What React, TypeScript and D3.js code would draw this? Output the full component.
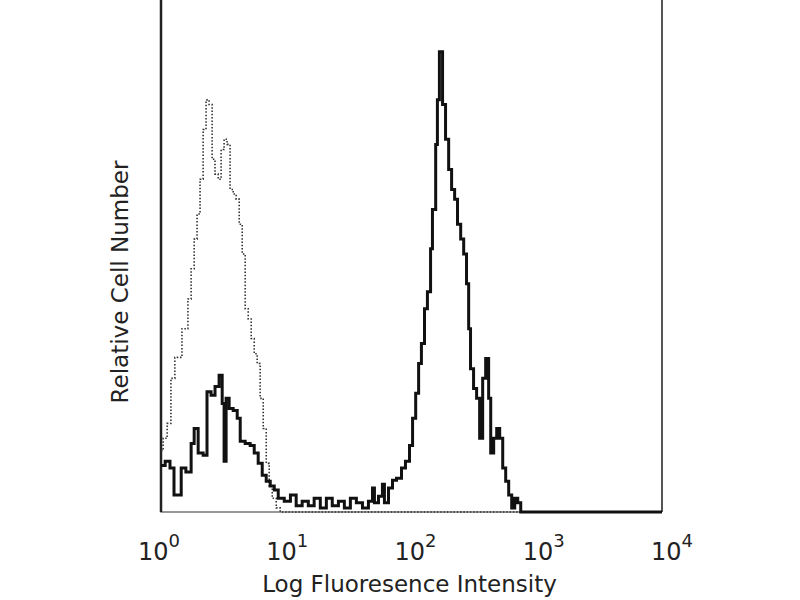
import React, { useEffect, useRef } from 'react';
import * as d3 from 'd3';

// stained sample (solid histogram): bin start intensity and relative count
const stainedIntensity = [
  1.0, 1.08, 1.18, 1.27, 1.45, 1.58, 1.74, 1.84, 1.98, 2.17, 2.33, 2.51, 2.7, 2.91, 3.08, 3.19,
  3.31, 3.5, 3.77, 4.06, 4.29, 4.7, 5.15, 5.55, 5.97, 6.43, 6.92, 7.45, 8.02, 8.63, 9.64, 10.8,
  12.0, 13.4, 15.0, 16.7, 18.7, 20.9, 23.3, 26.1, 29.1, 32.5, 36.3, 40.6, 45.3, 48.8, 50.6, 54.5,
  58.6, 60.8, 65.5, 70.5, 75.9, 83.2, 89.5, 96.4, 102, 108, 114, 120, 127, 134, 142, 147,
  156, 161, 167, 177, 187, 198, 209, 221, 233, 247, 261, 275, 286, 296, 313, 331,
  350, 370, 391, 413, 429, 453, 479, 506, 535, 565, 597, 631, 667, 705, 745, 10000,
];
const stainedCount = [
  9.1, 9.9, 8.6, 3.3, 8.6, 7.8, 13.4, 16.3, 11.5, 11.1, 23.5, 22.8, 24.5, 26.7, 21.2, 9.9,
  22.2, 20.2, 19.8, 18.3, 13.8, 13.4, 13.0, 11.5, 9.5, 7.2, 6.0, 5.1, 4.3, 2.7, 2.1, 3.3,
  1.2, 2.1, 1.2, 2.7, 0.8, 2.7, 1.2, 2.1, 0.8, 2.7, 1.8, 0.8, 2.1, 4.7, 1.8, 3.1,
  5.4, 1.8, 4.7, 6.2, 6.6, 8.6, 9.9, 13.0, 18.3, 23.2, 29.0, 32.9, 39.7, 43.0, 51.4, 59.1,
  71.8, 80.5, 89.9, 79.6, 72.8, 66.9, 63.0, 61.1, 56.2, 53.3, 50.4, 44.6, 35.8, 28.0, 24.1, 22.2,
  14.4, 26.1, 30.0, 22.2, 11.5, 14.4, 16.3, 14.4, 8.6, 6.0, 3.3, 0.8, 2.7, 1.8, 0, 0,
];

// isotype control (dotted histogram)
const isotypeIntensity = [
  1.0, 1.04, 1.12, 1.2, 1.29, 1.47, 1.64, 1.74, 1.84, 1.94, 2.05, 2.17, 2.29, 2.42, 2.56, 2.7,
  2.86, 3.02, 3.19, 3.37, 3.56, 3.77, 3.98, 4.21, 4.45, 4.7, 4.97, 5.25, 5.55, 5.86, 6.19, 6.55,
  6.92, 7.31, 7.73, 8.32, 8.95, 10000,
];
const isotypeCount = [
  12.0, 14.4, 17.3, 26.1, 30.2, 35.8, 41.6, 47.5, 53.3, 58.2, 65.0, 74.7, 80.5, 79.6, 68.9, 66.0,
  65.0, 70.8, 72.8, 71.8, 63.0, 62.1, 61.1, 56.2, 50.4, 39.7, 37.7, 33.9, 30.9, 29.0, 22.2, 16.3,
  9.5, 5.1, 2.7, 0.8, 0, 0,
];

const decadeTicks = [1, 10, 100, 1000, 10000];
const tickExponents = ['0', '1', '2', '3', '4'];

const App = () => {
  const chartRef = useRef<SVGSVGElement>(null);

  useEffect(() => {
    const svg = d3.select(chartRef.current);
    svg.selectAll('*').remove();

    const left = 161, right = 662, top = 0, bottom = 512;
    const font = '"DejaVu Sans", sans-serif';

    const x = d3.scaleLog().domain([1, 10000]).range([left, right]);
    const y = d3.scaleLinear().domain([0, 100]).range([bottom, top]);

    const line = d3.line<[number, number]>()
      .x(d => x(d[0]))
      .y(d => y(d[1]))
      .curve(d3.curveStepAfter);

    svg.append('rect').attr('width', 800).attr('height', 600).attr('fill', '#fff');

    // frame (open at the top)
    svg.append('path')
      .attr('d', `M${left},-2V${bottom}H${right}`)
      .attr('fill', 'none')
      .attr('stroke', '#777')
      .attr('stroke-width', 1.5);
    svg.append('line')
      .attr('x1', left).attr('x2', left).attr('y1', -2).attr('y2', bottom)
      .attr('stroke', '#222').attr('stroke-width', 2.5);
    svg.append('line')
      .attr('x1', right).attr('x2', right).attr('y1', -2).attr('y2', bottom)
      .attr('stroke', '#555').attr('stroke-width', 2);

    // isotype, dotted
    const iso = isotypeIntensity.map((v, i) => [v, isotypeCount[i]] as [number, number]);
    svg.append('path')
      .attr('d', line(iso))
      .attr('fill', 'none')
      .attr('stroke', '#333')
      .attr('stroke-width', 1.6)
      .attr('stroke-dasharray', '1.5,1.8');

    // stained, solid
    const st = stainedIntensity.map((v, i) => [v, stainedCount[i]] as [number, number]);
    svg.append('path')
      .attr('d', line(st))
      .attr('fill', 'none')
      .attr('stroke', '#111')
      .attr('stroke-width', 3)
      .attr('stroke-linejoin', 'miter');

    // tick labels 10^n
    const labels = svg.append('g')
      .attr('font-family', font)
      .attr('fill', '#222');
    decadeTicks.forEach((v, i) => {
      const t = labels.append('text')
        .attr('x', x(v) + 3 * i - 2)
        .attr('y', 560)
        .attr('text-anchor', 'middle')
        .attr('font-size', 24);
      t.append('tspan').text('10');
      t.append('tspan')
        .attr('dy', -13)
        .attr('font-size', 18)
        .text(tickExponents[i]);
    });

    // axis titles
    svg.append('text')
      .attr('x', (left + right) / 2 - 2)
      .attr('y', 592)
      .attr('text-anchor', 'middle')
      .attr('font-family', font)
      .attr('font-size', 23)
      .attr('fill', '#222')
      .text('Log Fluoresence Intensity');

    svg.append('text')
      .attr('transform', 'translate(128,282) rotate(-90)')
      .attr('text-anchor', 'middle')
      .attr('font-family', font)
      .attr('font-size', 23)
      .attr('fill', '#222')
      .text('Relative Cell Number');
  }, []);

  return (
    <svg
      ref={chartRef}
      width={800}
      height={600}
      style={{ position: 'absolute', left: 0, top: 0 }}
    ></svg>
  );
};

export default App;
